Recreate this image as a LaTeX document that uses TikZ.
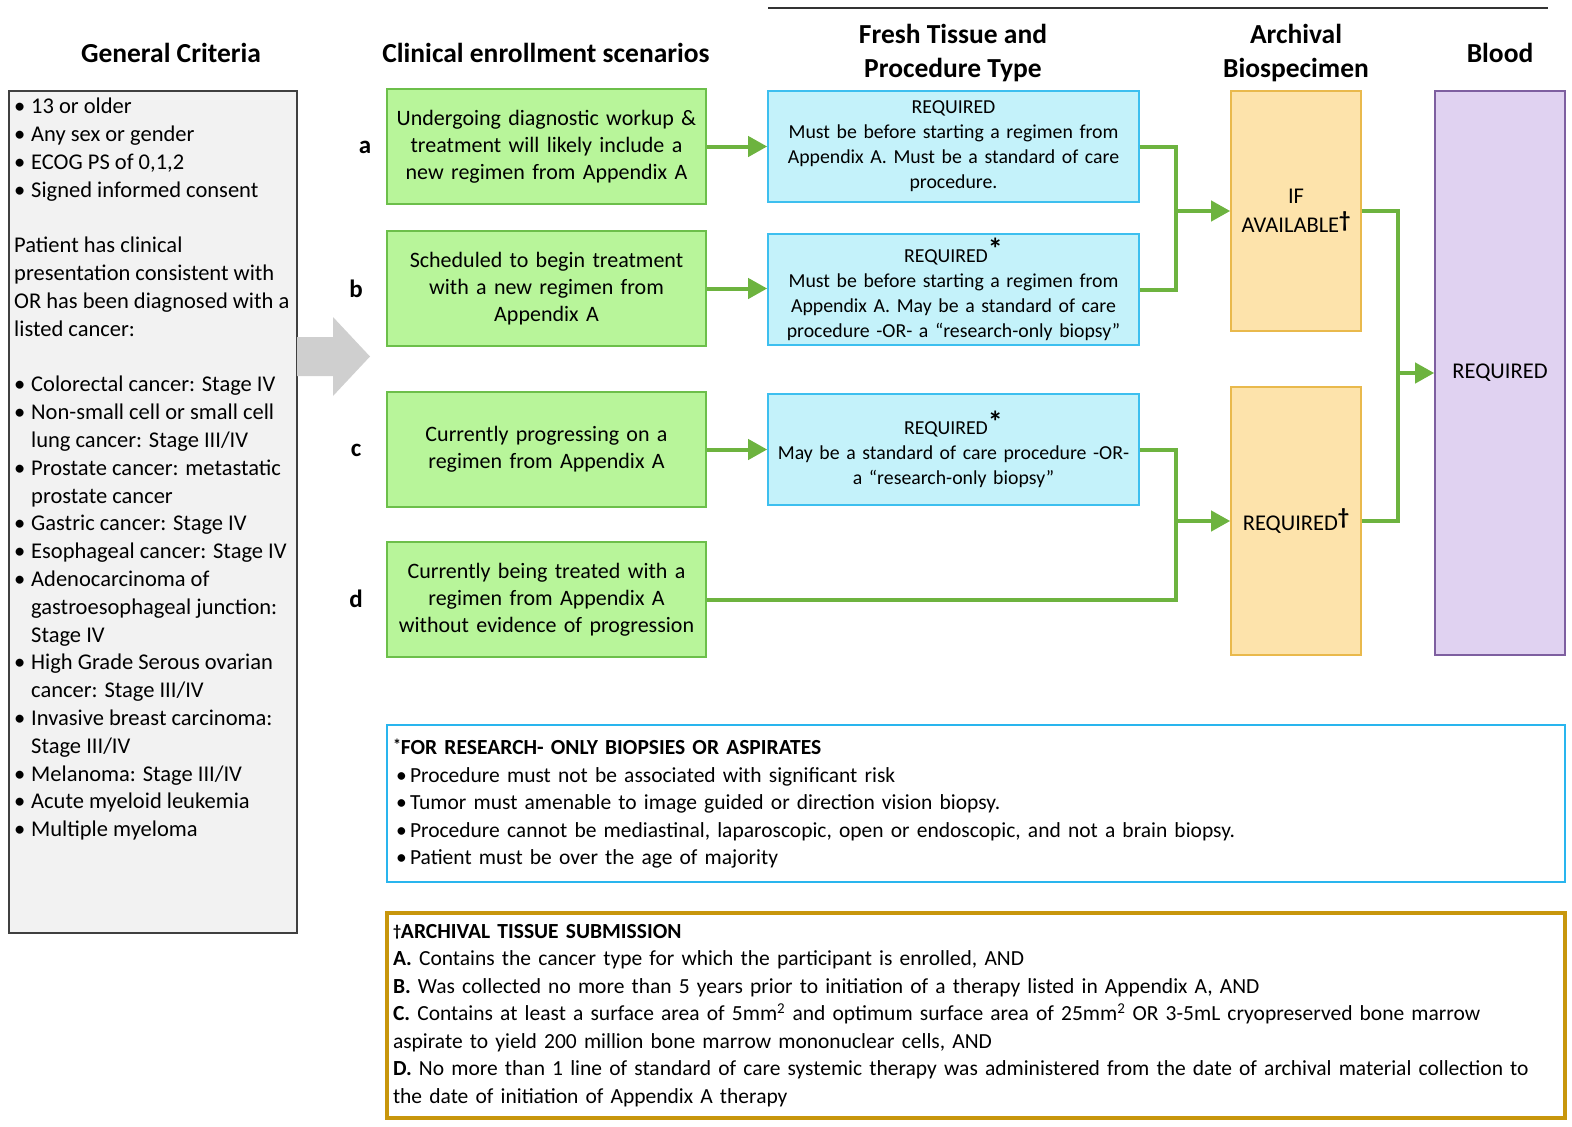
\documentclass[tikz,border=0pt]{standalone}
\usepackage{fontspec}
\setmainfont{Carlito}
\usepackage{tikz}
\usetikzlibrary{positioning, arrows.meta}

\definecolor{scenfill}{HTML}{B8F59A}
\definecolor{scenline}{HTML}{6CBF4A}
\definecolor{freshfill}{HTML}{C4F2FA}
\definecolor{freshline}{HTML}{3DBFEF}
\definecolor{archfill}{HTML}{FDE3AB}
\definecolor{archline}{HTML}{E9B94C}
\definecolor{bloodfill}{HTML}{E0D2F1}
\definecolor{bloodline}{HTML}{7E5FA0}
\definecolor{critfill}{HTML}{F2F2F2}
\definecolor{flowgreen}{HTML}{6DB33F}
\definecolor{notesblue}{HTML}{29B5EE}
\definecolor{notesgold}{HTML}{C8960C}

\newcommand{\bul}[1][17pt]{\makebox[#1][l]{\textbullet}}
\newcommand{\ind}{\hspace*{17pt}}
\newcommand{\reqstar}{\raisebox{0.12em}{\fontsize{30}{30}\selectfont\bfseries *}}

\begin{document}
\begin{tikzpicture}[
                x=1pt, y=-1pt,
                >={Triangle[length=19pt,width=20pt]},
                head/.style={align=center, font=\fontsize{27.5}{34}\selectfont\bfseries},
                letter/.style={font=\fontsize{25}{26}\selectfont\bfseries},
                scen/.style={draw=scenline, line width=1.6pt, fill=scenfill, rectangle, align=center, minimum width=319pt, minimum height=115pt, text width=312pt, inner sep=0pt, font=\fontsize{22}{27}\selectfont},
                fresh/.style={draw=freshline, line width=1.6pt, fill=freshfill, rectangle, align=center, minimum width=371pt, minimum height=111pt, text width=366pt, inner sep=0pt, font=\fontsize{19.8}{25}\selectfont},
                arch/.style={draw=archline, line width=1.6pt, fill=archfill, rectangle, align=center, minimum width=130pt, inner sep=0pt, font=\fontsize{22.5}{29}\selectfont},
                blood/.style={draw=bloodline, line width=1.6pt, fill=bloodfill, rectangle, align=center, minimum width=130pt, minimum height=564pt, inner sep=0pt, font=\fontsize{22.5}{29}\selectfont},
                notes/.style={rectangle, fill=white, align=left, minimum width=1178pt, text width=1166pt, inner sep=0pt, font=\fontsize{21.5}{27.5}\selectfont},
                flow/.style={->, line width=4pt, draw=flowgreen},
                link/.style={line width=4pt, draw=flowgreen}
            ]
            \useasboundingbox (0,0) rectangle (1572,1127);
            % Headers
            \draw[line width=1.3pt, black!80] (768,8) -- (1548,8);
            \node[head] (hcrit) at (171,53) {General Criteria};
            \node[head] (hscen) at (546,53) {Clinical enrollment scenarios};
            \node[head] (hfresh) at (953,53) {Fresh Tissue and\\Procedure Type};
            \node[head] (harch) at (1296,53) {Archival\\Biospecimen};
            \node[head] (hblood) at (1500,53) {Blood};

            % General criteria
            \node[draw=black!75, line width=1.4pt, fill=critfill, minimum width=288pt, minimum height=842pt] (crit) at (153,512) {};
            \node[anchor=north west, align=left, inner sep=0pt, font=\fontsize{22.5}{27.8}\selectfont] (crittext) at (14,98) {%
                \bul 13 or older\\
                \bul Any sex or gender\\
                \bul ECOG PS of 0,1,2\\
                \bul Signed informed consent\\[27.8pt]
                Patient has clinical\\
                presentation consistent with\\
                OR has been diagnosed with a\\
                listed cancer:\\[27.8pt]
                \bul Colorectal cancer: Stage IV\\
                \bul Non-small cell or small cell\\
                \ind lung cancer: Stage III/IV\\
                \bul Prostate cancer: metastatic\\
                \ind prostate cancer\\
                \bul Gastric cancer: Stage IV\\
                \bul Esophageal cancer: Stage IV\\
                \bul Adenocarcinoma of\\
                \ind gastroesophageal junction:\\
                \ind Stage IV\\
                \bul High Grade Serous ovarian\\
                \ind cancer: Stage III/IV\\
                \bul Invasive breast carcinoma:\\
                \ind Stage III/IV\\
                \bul Melanoma: Stage III/IV\\
                \bul Acute myeloid leukemia\\
                \bul Multiple myeloma};
            \fill[fill=black!19] (297,337) -- (333,337) -- (333,317) -- (370,356.5) -- (333,396) -- (333,376) -- (297,376) -- cycle;

            % Scenarios
            \node[letter] (la) at (365,147) {a};
            \node[letter] (lb) at (356,289) {b};
            \node[letter] (lc) at (356,450) {c};
            \node[letter] (ld) at (356,599) {d};
            \node[scen] (scenA) at (546.5,146.5) {Undergoing diagnostic workup \&\\treatment will likely include a\\new regimen from Appendix A};
            \node[scen] (scenB) at (546.5,288.5) {Scheduled to begin treatment\\with a new regimen from\\Appendix A};
            \node[scen] (scenC) at (546.5,449.5) {Currently progressing on a\\regimen from Appendix A};
            \node[scen] (scenD) at (546.5,599.5) {Currently being treated with a\\regimen from Appendix A\\without evidence of progression};

            % Fresh tissue
            \node[fresh] (freshA) at (953.5,146.5) {REQUIRED\\Must be before starting a regimen from\\Appendix A. Must be a standard of care\\procedure.};
            \node[fresh] (freshB) at (953.5,289.5) {REQUIRED\reqstar\\Must be before starting a regimen from\\Appendix A. May be a standard of care\\procedure -OR- a ``research-only biopsy''};
            \node[fresh] (freshC) at (953.5,449.5) {REQUIRED\reqstar\\May be a standard of care procedure -OR-\\a ``research-only biopsy''};

            % Archival and blood
            \node[arch, minimum height=240pt] (archA) at (1296,211) {IF\\AVAILABLE\raisebox{0.25em}{\bfseries\textdagger}};
            \node[arch, minimum height=268pt] (archB) at (1296,521) {REQUIRED\raisebox{0.25em}{\bfseries\textdagger}};
            \node[blood] (blood) at (1500,373) {REQUIRED};

            % Edges
            \coordinate (jA) at (1176,211);
            \coordinate (jB) at (1176,521);
            \coordinate (jC) at (1398,373);
            \draw[flow] (scenA.east) -- (freshA.west |- scenA.east);
            \draw[flow] (scenB.east) -- (freshB.west |- scenB.east);
            \draw[flow] (scenC.east) -- (freshC.west |- scenC.east);
            \draw[link] (freshA.east) -- (freshA.east -| jA) -- (freshB.east -| jA) -- (freshB.east);
            \draw[flow] (jA) -- (archA.west);
            \draw[link] (freshC.east) -- (freshC.east -| jB) -- (scenD.east -| jB) -- (scenD.east);
            \draw[flow] (jB) -- (archB.west);
            \draw[link] (archA.east) -- (archA.east -| jC) -- (archB.east -| jC) -- (archB.east);
            \draw[flow] (jC) -- (blood.west);

            % Footnotes
            \node[notes, draw=notesblue, line width=2.6pt, minimum height=157pt] (research) at (976,803.5) {%
                \textbf{\raisebox{0.2em}{\fontsize{16}{16}\selectfont *}FOR RESEARCH- ONLY BIOPSIES OR ASPIRATES}\\
                \hspace*{3pt}\bul[14pt]Procedure must not be associated with significant risk\\
                \hspace*{3pt}\bul[14pt]Tumor must amenable to image guided or direction vision biopsy.\\
                \hspace*{3pt}\bul[14pt]Procedure cannot be mediastinal, laparoscopic, open or endoscopic, and not a brain biopsy.\\
                \hspace*{3pt}\bul[14pt]Patient must be over the age of majority};
            \node[notes, draw=notesgold, line width=3.2pt, minimum height=205pt] (archival) at (976,1015.5) {%
                \textbf{\raisebox{0.1em}{\fontsize{16}{16}\selectfont\textdagger}ARCHIVAL TISSUE SUBMISSION}\\
                \textbf{A.} Contains the cancer type for which the participant is enrolled, AND\\
                \textbf{B.} Was collected no more than 5 years prior to initiation of a therapy listed in Appendix A, AND\\
                \textbf{C.} Contains at least a surface area of 5mm\textsuperscript{2} and optimum surface area of 25mm\textsuperscript{2} OR 3-5mL cryopreserved bone marrow\\
                aspirate to yield 200 million bone marrow mononuclear cells, AND\\
                \textbf{D.} No more than 1 line of standard of care systemic therapy was administered from the date of archival material collection to\\
                the date of initiation of Appendix A therapy};
\end{tikzpicture}
\end{document}
